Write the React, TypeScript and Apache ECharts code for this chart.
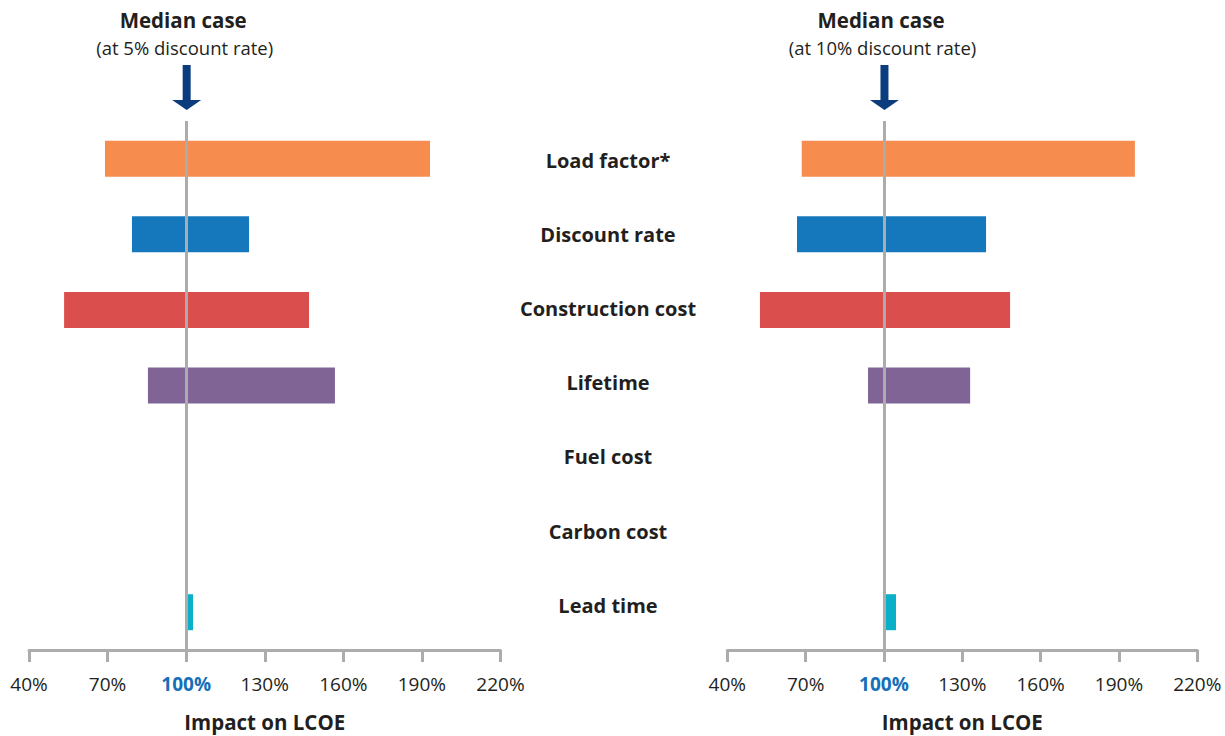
import React, { useEffect, useRef } from "react";
import * as echarts from "echarts";

const categories = [
  "Load factor*",
  "Discount rate",
  "Construction cost",
  "Lifetime",
  "Fuel cost",
  "Carbon cost",
  "Lead time",
];
const barColors = ["#f68d4f", "#1578bd", "#da4f4d", "#7f6495", "#7f6495", "#7f6495", "#0ab0c8"];

// Range of impact on LCOE (%), low and high, at 5% discount rate
const low5 = [69.0, 79.3, 53.4, 85.4, null, null, 100];
const high5 = [193.1, 124.0, 146.9, 156.8, null, null, 102.6];
// at 10% discount rate
const low10 = [68.5, 66.7, 52.5, 93.9, null, null, 100];
const high10 = [196.1, 139.1, 148.3, 133.0, null, null, 104.6];

const xTicks = [40, 70, 100, 130, 160, 190, 220];
const medianValue = 100;
const titles = ["Median case", "Median case"];
const subtitles = ["(at 5% discount rate)", "(at 10% discount rate)"];
const axisTitle = "Impact on LCOE";

const TEXT = "#231f20";
const GRAY = "#acacac";
const FONT = "'Open Sans', 'Noto Sans', sans-serif";

function xAxisFor(gridIndex: number) {
  return {
    type: "value",
    gridIndex,
    min: xTicks[0],
    max: xTicks[xTicks.length - 1],
    interval: 30,
    name: axisTitle,
    nameLocation: "middle",
    nameGap: 61,
    nameTextStyle: { fontFamily: FONT, fontWeight: "bold", fontSize: 20.5, color: TEXT },
    axisLine: { show: true, lineStyle: { color: GRAY, width: 3 } },
    axisTick: { show: true, inside: false, length: 12, lineStyle: { color: GRAY, width: 3 } },
    splitLine: { show: false },
    axisLabel: {
      margin: 24,
      fontFamily: FONT,
      fontSize: 19,
      color: TEXT,
      formatter: (v: number) => (v === medianValue ? `{b|${v}%}` : `${v}%`),
      rich: { b: { fontFamily: FONT, fontSize: 19, fontWeight: "bold", color: "#1570b8" } },
    },
  };
}

function yAxisFor(gridIndex: number) {
  return {
    type: "category",
    gridIndex,
    data: categories,
    inverse: true,
    axisLine: { show: false },
    axisTick: { show: false },
    axisLabel: { show: false },
    splitLine: { show: false },
  };
}

function seriesFor(idx: number, low: (number | null)[], high: (number | null)[]) {
  const stack = "s" + idx;
  return [
    {
      type: "bar",
      xAxisIndex: idx,
      yAxisIndex: idx,
      stack,
      barWidth: 36,
      silent: true,
      itemStyle: { color: "transparent" },
      data: low.map((v) => (v == null ? null : v)),
    },
    {
      type: "bar",
      xAxisIndex: idx,
      yAxisIndex: idx,
      stack,
      barWidth: 36,
      data: high.map((h, i) => {
        const l = low[i];
        if (h == null || l == null) return null;
        return { value: h - l, itemStyle: { color: barColors[i] } };
      }),
      markLine: {
        silent: true,
        symbol: "none",
        label: { show: false },
        lineStyle: { color: GRAY, width: 3, type: "solid" },
        data: [{ xAxis: medianValue }],
      },
    },
  ];
}

export default function App() {
  const ref = useRef<HTMLDivElement>(null);
  useEffect(() => {
    if (!ref.current) return;
    const chart = echarts.init(ref.current, null, { renderer: "svg" });
    const option: any = {
      animation: false,
      backgroundColor: "#ffffff",
      grid: [
        { left: 29, width: 471.5, top: 121, height: 529, containLabel: false, outerBoundsMode: "none" },
        { left: 727.3, width: 470, top: 121, height: 529, containLabel: false, outerBoundsMode: "none" },
        { left: 620, width: 10, top: 123, height: 519.4, containLabel: false, outerBoundsMode: "none" },
      ],
      xAxis: [
        xAxisFor(0),
        xAxisFor(1),
        { type: "value", gridIndex: 2, show: false },
      ],
      yAxis: [
        yAxisFor(0),
        yAxisFor(1),
        {
          type: "category",
          gridIndex: 2,
          data: categories,
          inverse: true,
          axisLine: { show: false },
          axisTick: { show: false },
          splitLine: { show: false },
          axisLabel: {
            show: true,
            align: "center",
            margin: 12,
            fontFamily: FONT,
            fontWeight: "bold",
            fontSize: 20,
            color: TEXT,
          },
        },
      ],
      series: [...seriesFor(0, low5, high5), ...seriesFor(1, low10, high10)],
    };
    chart.setOption(option);

    const graphics: any[] = [];
    [0, 1].forEach((g) => {
      const px = chart.convertToPixel({ gridIndex: g } as any, [medianValue, categories[0]]) as number[];
      const cx = px[0];
      graphics.push(
        {
          type: "text",
          x: cx - 3,
          y: 20,
          style: {
            text: titles[g],
            align: "center",
            verticalAlign: "middle",
            fontFamily: FONT,
            fontWeight: "bold",
            fontSize: 20.5,
            fill: TEXT,
          },
        },
        {
          type: "text",
          x: cx - 1.5,
          y: 47,
          style: {
            text: subtitles[g],
            align: "center",
            verticalAlign: "middle",
            fontFamily: FONT,
            fontSize: 18.5,
            fill: TEXT,
          },
        },
        {
          type: "rect",
          shape: { x: cx - 3.5, y: 65, width: 8, height: 36 },
          style: { fill: "#0b3c7d" },
        },
        {
          type: "polygon",
          shape: { points: [[cx - 14, 100], [cx + 15, 100], [cx + 0.5, 110]] },
          style: { fill: "#0b3c7d" },
        }
      );
    });
    chart.setOption({ graphic: graphics });

    return () => chart.dispose();
  }, []);
  return (
    <div
      ref={ref}
      style={{ position: "absolute", left: 0, top: 0, width: 1225, height: 736, background: "#fff" }}
    />
  );
}
